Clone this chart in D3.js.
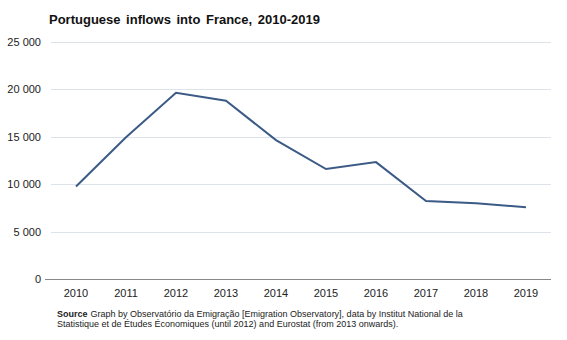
<!DOCTYPE html>
<html lang="en">
<head>
    <meta charset="UTF-8">
    <title>Portuguese inflows into France, 2010-2019</title>
    <script src="https://d3js.org/d3.v7.min.js"></script>
    <style>
        body { margin: 0; background: #fff; }
        svg { display: block; font-family: "Liberation Sans", Arial, sans-serif; }
    </style>
</head>
<body>
    <svg id="chart"></svg>

    <script>
        const width = 567, height = 340;

        const years = ["2010", "2011", "2012", "2013", "2014", "2015", "2016", "2017", "2018", "2019"];
        const inflows = [9750, 14950, 19650, 18800, 14650, 11600, 12330, 8230, 8000, 7570];
        const yTicks = [0, 5000, 10000, 15000, 20000, 25000];

        const margin = { top: 42, right: 16, bottom: 61, left: 51 };

        const svg = d3.select("#chart")
            .attr("width", width)
            .attr("height", height);

        const x = d3.scaleBand()
            .domain(years)
            .range([margin.left, width - margin.right]);

        const y = d3.scaleLinear()
            .domain([0, 25000])
            .range([height - margin.bottom, margin.top]);

        const fmt = v => d3.format(",")(v).replace(/,/g, " ");

        // gridlines
        svg.append("g")
            .selectAll("line")
            .data(yTicks.filter(d => d > 0))
            .join("line")
            .attr("x1", margin.left)
            .attr("x2", width - margin.right)
            .attr("y1", d => Math.round(y(d)) + 0.5)
            .attr("y2", d => Math.round(y(d)) + 0.5)
            .attr("stroke", "#dde3ea")
            .attr("stroke-width", 1);

        // y labels
        svg.append("g")
            .selectAll("text")
            .data(yTicks)
            .join("text")
            .attr("x", 41)
            .attr("y", d => y(d) + 4)
            .attr("text-anchor", "end")
            .attr("font-size", 11)
            .attr("fill", "#222")
            .text(fmt);

        // baseline
        svg.append("line")
            .attr("x1", margin.left - 6)
            .attr("x2", width - margin.right)
            .attr("y1", Math.round(y(0)) + 0.5)
            .attr("y2", Math.round(y(0)) + 0.5)
            .attr("stroke", "#888")
            .attr("stroke-width", 1);

        // x labels
        svg.append("g")
            .selectAll("text")
            .data(years)
            .join("text")
            .attr("x", d => x(d) + x.bandwidth() / 2)
            .attr("y", y(0) + 18)
            .attr("text-anchor", "middle")
            .attr("font-size", 11)
            .attr("fill", "#222")
            .text(d => d);

        // line
        const line = d3.line()
            .x((d, i) => x(years[i]) + x.bandwidth() / 2)
            .y(d => y(d));

        svg.append("path")
            .datum(inflows)
            .attr("d", line)
            .attr("fill", "none")
            .attr("stroke", "#3b5b86")
            .attr("stroke-width", 2)
            .attr("stroke-linejoin", "miter");

        // title
        svg.append("text")
            .attr("x", 49)
            .attr("y", 24)
            .attr("font-size", 13)
            .attr("font-weight", "bold")
            .attr("fill", "#111")
            .attr("word-spacing", 2)
            .text("Portuguese inflows into France, 2010-2019");

        // source note
        const note = svg.append("text")
            .attr("font-size", 9)
            .attr("fill", "#222");

        const l1 = note.append("tspan").attr("x", 57).attr("y", 317);
        l1.append("tspan").attr("font-weight", "bold").text("Source");
        l1.append("tspan").attr("dx", 3).text("Graph by Observatório da Emigração [Emigration Observatory], data by Institut National de la");
        note.append("tspan").attr("x", 57).attr("y", 327)
            .text("Statistique et de Études Économiques (until 2012)  and Eurostat (from 2013 onwards).");
    </script>
</body>
</html>
